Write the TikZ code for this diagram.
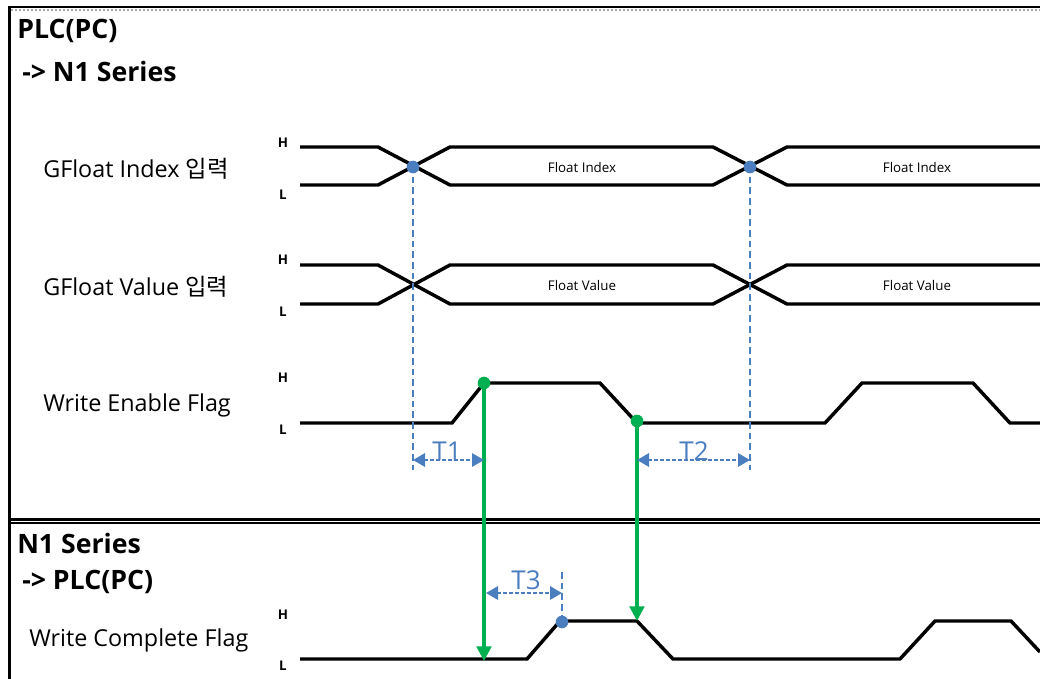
\documentclass[tikz,border=0pt]{standalone}
\usepackage{fontspec}
\setmainfont{Open Sans}
\newfontfamily\kr{Noto Sans CJK KR}
\usetikzlibrary{arrows.meta}
\definecolor{markblue}{RGB}{74,126,191}
\definecolor{flaggreen}{RGB}{0,176,80}
\tikzset{
  wave/.style={line width=2.6pt, line join=miter, black},
  hl/.style={font=\fontsize{10}{11}\selectfont\bfseries, inner sep=0pt},
  signame/.style={font=\fontsize{17.5}{19}\selectfont, anchor=west, inner sep=0pt},
  header/.style={font=\fontsize{20}{22}\selectfont\bfseries, anchor=west, inner sep=0pt},
  buslabel/.style={font=\fontsize{10}{11}\selectfont, inner sep=0pt},
  guide/.style={markblue, line width=1.6pt, dash pattern=on 5pt off 3pt},
  span/.style={markblue, line width=1.6pt, dash pattern=on 3pt off 1.5pt,
    {Triangle[length=9pt,width=10pt]}-{Triangle[length=9pt,width=10pt]}},
  spanlabel/.style={markblue, font=\fontsize{19.5}{21}\selectfont, inner sep=0pt, anchor=base},
  bluedot/.style={circle, fill=markblue, minimum size=9.5pt, inner sep=0pt},
  greendot/.style={circle, fill=flaggreen, minimum size=9.5pt, inner sep=0pt},
  flagarrow/.style={flaggreen, line width=2.3pt, -{Triangle[length=11pt,width=11pt]}},
}
\begin{document}
\begin{tikzpicture}[x=0.75pt,y=-0.75pt]
\useasboundingbox (0,0) rectangle (1040,679);

% frame
\draw[line width=1.6pt] (8,7) -- (1040,7);
\draw[gray!70, line width=1.2pt, dash pattern=on 1.5pt off 1.5pt] (11,10.2) -- (1040,10.2);
\draw[line width=2.4pt] (9.6,6) -- (9.6,679);
\draw[line width=2.2pt] (9,519.5) -- (1040,519.5);
\draw[line width=1.2pt] (9,523.2) -- (1040,523.2);

% section headers
\node[header] (h1) at (17,31) {PLC(PC)};
\node[header] (h2) at (22,71) {-> N1 Series};
\node[header] (h3) at (17,543) {N1 Series};
\node[header] (h4) at (22,582) {-> PLC(PC)};

% signal names
\node[signame] (s1) at (43,169) {GFloat Index {\kr 입력}};
\node[signame] (s2) at (43,287) {GFloat Value {\kr 입력}};
\node[signame] (s3) at (43,405) {Write Enable Flag};
\node[signame] (s4) at (29,640) {Write Complete Flag};

% H / L marks
\foreach \n/\yh/\yl in {1/143/195, 2/260/312, 3/378/430, 4/615/666}{
  \node[hl] (H\n) at (283,\yh) {H};
  \node[hl] (L\n) at (283,\yl) {L};
}

% GFloat Index bus
\draw[wave] (300,147) -- (378,147) -- (450,185) -- (713,185) -- (787,147) -- (1040,147);
\draw[wave] (300,185) -- (378,185) -- (450,147) -- (713,147) -- (787,185) -- (1040,185);
\node[buslabel] (fi1) at (582,167) {Float Index};
\node[buslabel] (fi2) at (917,167) {Float Index};

% GFloat Value bus
\draw[wave] (300,265) -- (378,265) -- (450,304) -- (713,304) -- (787,265) -- (1040,265);
\draw[wave] (300,304) -- (378,304) -- (450,265) -- (713,265) -- (787,304) -- (1040,304);
\node[buslabel] (fv1) at (582,285) {Float Value};
\node[buslabel] (fv2) at (917,285) {Float Value};

% Write Enable Flag
\draw[wave] (300,423) -- (452,423) -- (484,383) -- (600,383) -- (637,423)
  -- (825,423) -- (862,383) -- (973,383) -- (1010,423) -- (1040,423);

% Write Complete Flag
\draw[wave] (300,659) -- (527,659) -- (560,621) -- (637,621) -- (673,659)
  -- (900,659) -- (935,621) -- (1011,621) -- (1040,652);

% timing guides
\coordinate (g1top) at (413,166);
\coordinate (g1bot) at (413,470);
\coordinate (g2top) at (750,166);
\coordinate (g2bot) at (750,470);
\coordinate (g3top) at (562,572);
\draw[guide] (g1top) -- (g1bot);
\draw[guide] (g2top) -- (g2bot);
\node[bluedot] (x1) at (413,167) {};
\node[bluedot] (x2) at (750,167) {};

% handshake arrows
\node[greendot] (we) at (484,383) {};
\node[greendot] (wd) at (637,421) {};
\coordinate (wcl) at (484,661);
\coordinate (wch) at (637,621);
\draw[flagarrow] (we.center) -- (wcl);
\draw[flagarrow] (wd.center) -- (wch);

\node[bluedot] (wc) at (562,622) {};
\draw[guide] (g3top) -- (wc.center);

% intervals
\coordinate (t1a) at (413,460);
\coordinate (t1b) at (484,460);
\coordinate (t2a) at (637,460);
\coordinate (t2b) at (750,460);
\coordinate (t3a) at (486,593);
\coordinate (t3b) at (562,593);
\draw[span] (t1a) -- (t1b);
\draw[span] (t2a) -- (t2b);
\draw[span] (t3a) -- (t3b);
\node[spanlabel] (T1) at (447,460) {T1};
\node[spanlabel] (T2) at (694,460) {T2};
\node[spanlabel] (T3) at (526,589) {T3};
\end{tikzpicture}
\end{document}
